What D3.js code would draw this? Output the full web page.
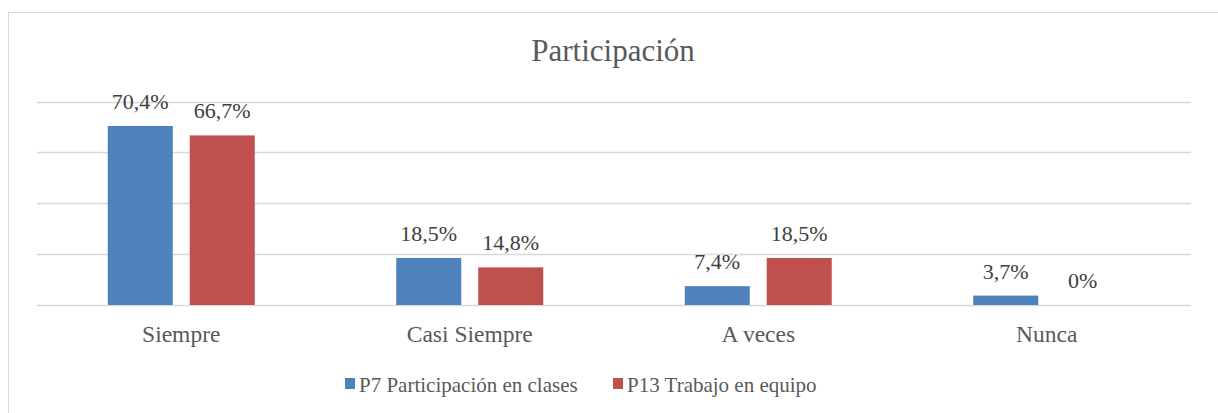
<!DOCTYPE html>
<html>
<head>
<meta charset="utf-8">
<script src="https://cdn.jsdelivr.net/npm/d3@7"></script>
</head>
<body style="margin:0">
<svg id="chart" width="1218" height="413"></svg>
<script>
const categories = ["Siempre", "Casi Siempre", "A veces", "Nunca"];
const seriesNames = ["P7 Participación en clases", "P13 Trabajo en equipo"];
const p7Values = [70.4, 18.5, 7.4, 3.7];
const p13Values = [66.7, 14.8, 18.5, 0];
const yTicks = [0, 20, 40, 60, 80];
const colors = ["#4F81BD", "#C0504D"];

const FONT = "Times New Roman, Liberation Serif, serif";
const svg = d3.select("#chart");
const W = 1218, H = 413;
const plot = {left: 37, right: 1191, top: 101.6, bottom: 305};

// outer frame
svg.append("rect")
	.attr("x", 8.5).attr("y", 12.5)
	.attr("width", W - 8).attr("height", H)
	.attr("fill", "#fff").attr("stroke", "#D9D9D9").attr("stroke-width", 1);

svg.append("text")
	.attr("x", 613).attr("y", 61)
	.attr("text-anchor", "middle")
	.attr("font-size", 31)
	.style("font-family", FONT)
	.attr("fill", "#595959")
	.text("Participación");

const x0 = d3.scaleBand().domain(categories).range([plot.left, plot.right]);
const x1 = d3.scaleBand().domain([0, 1]).range([0, x0.bandwidth()]).paddingInner(0.207).paddingOuter(0.863);
const y = d3.scaleLinear().domain([0, 80]).range([plot.bottom, plot.top]);

// gridlines
svg.append("g").selectAll("line").data(yTicks).join("line")
	.attr("x1", plot.left).attr("x2", plot.right)
	.attr("y1", d => Math.round(y(d)) + 0.5).attr("y2", d => Math.round(y(d)) + 0.5)
	.attr("stroke", "#D9D9D9").attr("stroke-width", 1.3);

const rows = categories.map((c, i) => ({cat: c, vals: [p7Values[i], p13Values[i]]}));

const groups = svg.append("g").selectAll("g").data(rows).join("g")
	.attr("transform", d => `translate(${x0(d.cat)},0)`);

groups.selectAll("rect").data(d => d.vals.map((v, s) => ({v, s}))).join("rect")
	.attr("x", d => x1(d.s))
	.attr("width", x1.bandwidth())
	.attr("y", d => y(d.v))
	.attr("height", d => y(0) - y(d.v))
	.attr("fill", d => colors[d.s]);

const fmt = v => (v === 0 ? "0" : d3.format(".1f")(v).replace(".", ",")) + "%";

groups.selectAll("text.val").data(d => d.vals.map((v, s) => ({v, s}))).join("text")
	.attr("class", "val")
	.attr("x", d => x1(d.s) + x1.bandwidth() / 2 - (d.v === 0 ? 5 : 0))
	.attr("y", d => y(d.v) - 17)
	.attr("text-anchor", "middle")
	.attr("font-size", 22)
	.style("font-family", FONT)
	.attr("fill", "#404040")
	.text(d => fmt(d.v));

// category labels
svg.append("g").selectAll("text").data(categories).join("text")
	.attr("x", d => x0(d) + x0.bandwidth() / 2)
	.attr("y", 342)
	.attr("text-anchor", "middle")
	.attr("font-size", 23.5)
	.style("font-family", FONT)
	.attr("fill", "#595959")
	.text(d => d);

// legend
const legendX = [345, 613];
const legend = svg.append("g").selectAll("g").data(seriesNames).join("g")
	.attr("transform", (d, i) => `translate(${legendX[i]},392)`);
legend.append("rect")
	.attr("x", 0).attr("y", -14).attr("width", 10).attr("height", 11)
	.attr("fill", (d, i) => colors[i]);
legend.append("text")
	.attr("x", 14).attr("y", 0)
	.attr("font-size", 21)
	.style("font-family", FONT)
	.attr("fill", "#595959")
	.text(d => d);
</script>
</body>
</html>
